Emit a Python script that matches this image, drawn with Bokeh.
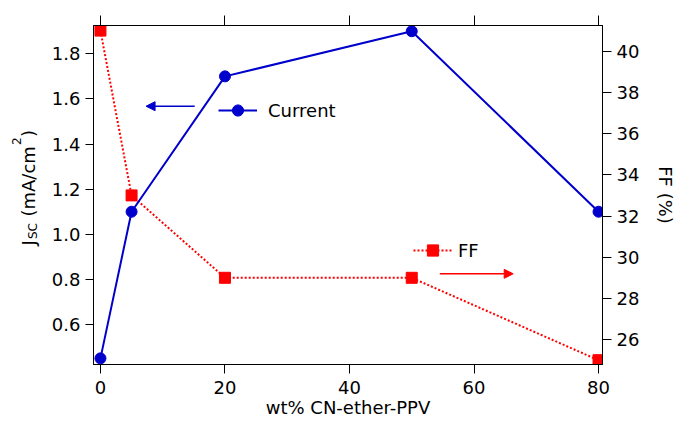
import math
from bokeh.plotting import figure
from bokeh.layouts import row
from bokeh.models import (Range1d, LinearAxis, FixedTicker, Arrow, NormalHead,
                          Legend, LegendItem, PrintfTickFormatter, CustomJSTickFormatter)
from bokeh.core.properties import value
from bokeh.embed import file_html
from bokeh.resources import INLINE

# ---- data ----
wt = [0, 5, 20, 50, 80]
current = [0.45, 1.10, 1.70, 1.90, 1.10]
ff = [41, 33, 29, 29, 25]
x_ticks = [0, 20, 40, 60, 80]
left_ticks = [0.6, 0.8, 1.0, 1.2, 1.4, 1.6, 1.8]
right_ticks = [26, 28, 30, 32, 34, 36, 38, 40]

BLUE = "#0000CC"
RED = "#FF0000"
FONT = "DejaVu Sans"

W, H = 679, 428
LW = 46                              # width of the strip holding the left title
FL, FR, FT, FB = 93, 606, 25, 364    # frame edges in page px

# pixel <-> data helpers (calibrated from the reference)
def px2x(px):
    return (px - 100) / 6.275

def py2l(py):
    return 1.8 - (py - 53.3) / 225.6

def py2r(py):
    return 40 - (py - 50.7) / 20.6

yl_range = Range1d(py2l(FB), py2l(FT))

p = figure(width=W - LW, height=H, output_backend="svg", toolbar_location=None,
           x_range=Range1d(px2x(FL), px2x(FR)), y_range=yl_range,
           min_border_left=FL - LW, min_border_right=W - FR,
           min_border_top=FT, min_border_bottom=H - FB)
p.extra_y_ranges = {"ff": Range1d(py2r(FB), py2r(FT))}

p.xgrid.visible = False
p.ygrid.visible = False
p.outline_line_color = "black"
p.outline_line_width = 1
p.background_fill_color = "white"
p.border_fill_color = "white"

def style_axis(ax, tick_out, standoff):
    ax.axis_line_color = "black"
    ax.major_tick_line_color = "black"
    ax.major_tick_out = tick_out
    ax.major_tick_in = 0
    ax.minor_tick_line_color = None
    ax.major_label_text_font = FONT
    ax.major_label_text_font_size = "18px"
    ax.major_label_text_color = "black"
    ax.major_label_standoff = standoff
    ax.axis_label_text_font = FONT
    ax.axis_label_text_font_size = "18px"
    ax.axis_label_text_font_style = "normal"
    ax.axis_label_text_color = "black"

xa = p.xaxis[0]
xa.ticker = FixedTicker(ticks=x_ticks)
style_axis(xa, 9, 7)
xa.axis_label = "wt% CN-ether-PPV"
xa.axis_label_standoff = 0

ya = p.yaxis[0]
ya.ticker = FixedTicker(ticks=left_ticks)
ya.formatter = PrintfTickFormatter(format="%.1f")
style_axis(ya, 8, 5)

ra = LinearAxis(y_range_name="ff", ticker=FixedTicker(ticks=right_ticks))
style_axis(ra, 9, 5)
ra.axis_label = "FF (%)"
ra.axis_label_standoff = 13
p.add_layout(ra, "right")

ta = LinearAxis(ticker=FixedTicker(ticks=x_ticks),
                formatter=CustomJSTickFormatter(code="return ''"))
style_axis(ta, 10, 0)
p.add_layout(ta, "above")

# ---- series ----
ff_line = p.line(wt, ff, y_range_name="ff", line_color=RED, line_width=2, line_dash="2 2")
ff_pts = p.scatter(wt, ff, y_range_name="ff", marker="square", size=11,
                   fill_color=RED, line_color=RED)
cur_line = p.line(wt, current, line_color=BLUE, line_width=2)
cur_pts = p.scatter(wt, current, marker="circle", size=11, fill_color=BLUE, line_color=BLUE)

# ---- legends ----
def make_legend(label, rends, left_px, cy_px, standoff):
    return Legend(items=[LegendItem(label=label, renderers=rends)],
                  location=(left_px - FL, (FB - cy_px) - 14),
                  glyph_width=39, glyph_height=28, label_height=28,
                  label_standoff=standoff, padding=0, margin=0, spacing=0,
                  border_line_color=None, background_fill_alpha=0,
                  label_text_font=FONT, label_text_font_size="18px",
                  label_text_color="black")

p.add_layout(make_legend("Current", [cur_line, cur_pts], 218, 110, 11))
p.add_layout(make_legend("FF", [ff_line, ff_pts], 413, 250, 6))

# ---- arrows ----
p.add_layout(Arrow(end=NormalHead(size=9, fill_color=BLUE, line_color=BLUE),
                   x_start=px2x(195), y_start=py2l(105.7),
                   x_end=px2x(146), y_end=py2l(105.7),
                   line_color=BLUE, line_width=1.5))
p.add_layout(Arrow(end=NormalHead(size=9, fill_color=RED, line_color=RED),
                   x_start=px2x(442), y_start=py2r(273.3),
                   x_end=px2x(516), y_end=py2r(273.3), y_range_name="ff",
                   line_color=RED, line_width=1.5))

# ---- left title strip: J_SC (mA/cm^2), rotated; shares the left y range ----
t = figure(width=LW, height=H, output_backend="svg", toolbar_location=None,
           x_range=Range1d(0, LW), y_range=yl_range,
           x_axis_type=None, y_axis_type=None,
           min_border_left=0, min_border_right=0,
           min_border_top=FT, min_border_bottom=H - FB)
t.outline_line_color = None
t.xgrid.visible = False
t.ygrid.visible = False
t.border_fill_color = "white"
t.background_fill_color = "white"

# (text, font px, baseline shift px, advance px)
pieces = [("J", 18, 0, 6.5), ("SC", 12, 4, 16.5 + 6.0), ("(mA/cm", 18, 0, 71.5),
          ("2", 12, -12, 8.0), (")", 18, 0, 7.0)]
base_x = 28.0
pos_y = 245.0
for txt, fs, shift, adv in pieces:
    t.text(x=[base_x + shift], y=[py2l(pos_y)], text=[txt], angle=math.pi / 2,
           text_font=value(FONT), text_font_size=value(f"{fs}px"), text_color="black",
           text_align="left", text_baseline="alphabetic")
    pos_y -= adv

layout = row(t, p)
open("out.html", "w").write(file_html(layout, INLINE))
